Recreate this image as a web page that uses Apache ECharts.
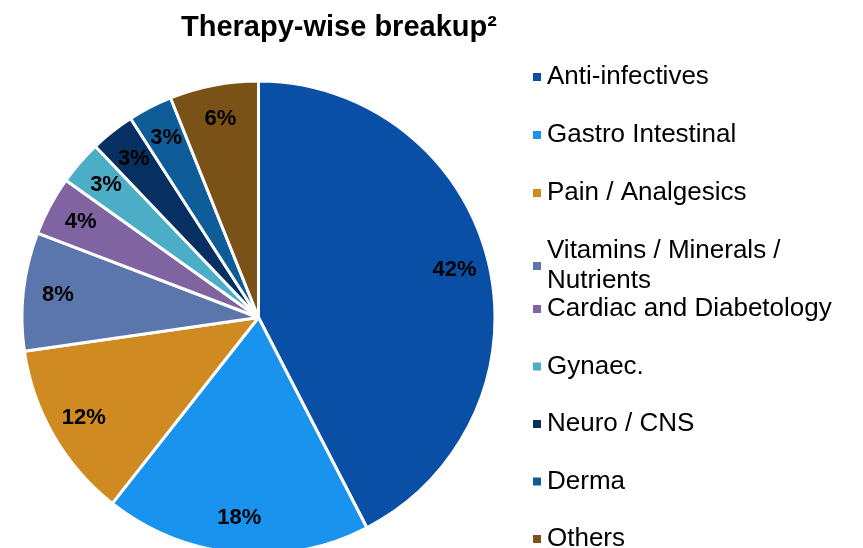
<!DOCTYPE html>
<html>
<head>
<meta charset="utf-8">
<script src="https://cdn.jsdelivr.net/npm/echarts@6/dist/echarts.min.js"></script>
<style>html,body{margin:0;padding:0;background:#fff;}#c{width:863px;height:548px;}</style>
</head>
<body>
<div id="c"></div>
<script>
var categories = ['Anti-infectives','Gastro Intestinal','Pain / Analgesics','Vitamins / Minerals / Nutrients','Cardiac and Diabetology','Gynaec.','Neuro / CNS','Derma','Others'];
var shares = [42, 18, 12, 8, 4, 3, 3, 3, 6];
var colors = ['#094FA6','#1A93EE','#CF8A22','#5B76AD','#8063A1','#4BADC6','#062F62','#0E5D98','#7A5218'];
var titleText = 'Therapy-wise breakup\u00B2';

var mainData = categories.map(function(n,i){ return {name:n, value:shares[i], itemStyle:{color:colors[i]}}; });
var labelData = categories.map(function(n,i){ return {name:n, value:shares[i]}; });

var chart = echarts.init(document.getElementById('c'), null, {renderer:'canvas'});
var legendText = {fontFamily:'Liberation Sans, Arial, sans-serif', fontSize:26, color:'#000', lineHeight:30};
chart.setOption({
  animation:false,
  backgroundColor:'#fff',
  title:{text:titleText, left:176, top:8, textStyle:{fontFamily:'Liberation Sans, Arial, sans-serif', fontWeight:'bold', fontSize:29, color:'#000'}},
  legend:[
    {orient:'vertical', left:531, top:62, padding:0, itemGap:28, icon:'rect', itemWidth:10, itemHeight:10,
     data:categories.slice(0,4), textStyle:legendText, selectedMode:false,
     formatter:function(n){ return n==='Vitamins / Minerals / Nutrients' ? 'Vitamins / Minerals /\nNutrients' : n; }},
    {orient:'vertical', left:531, top:294, height:400, padding:0, itemGap:27.5, icon:'rect', itemWidth:10, itemHeight:10,
     data:categories.slice(4), textStyle:legendText, selectedMode:false}
  ],
  series:[
    {type:'pie', name:'main', center:[258.5,317.5], radius:[0,236.5], startAngle:90, clockwise:true,
     avoidLabelOverlap:false, label:{show:false}, labelLine:{show:false},
     itemStyle:{borderColor:'#fff', borderWidth:3}, emphasis:{disabled:true}, data:mainData},
    {type:'pie', name:'labels', center:[258.5,317.5], radius:[161,236.5], startAngle:90, clockwise:true,
     silent:true, avoidLabelOverlap:false, itemStyle:{color:'rgba(0,0,0,0)'}, labelLine:{show:false},
     label:{show:true, position:'inside', formatter:'{c}%', fontFamily:'Liberation Sans, Arial, sans-serif', fontWeight:'bold', fontSize:22, color:'#000'},
     emphasis:{disabled:true}, data:labelData}
  ]
});
</script>
</body>
</html>
